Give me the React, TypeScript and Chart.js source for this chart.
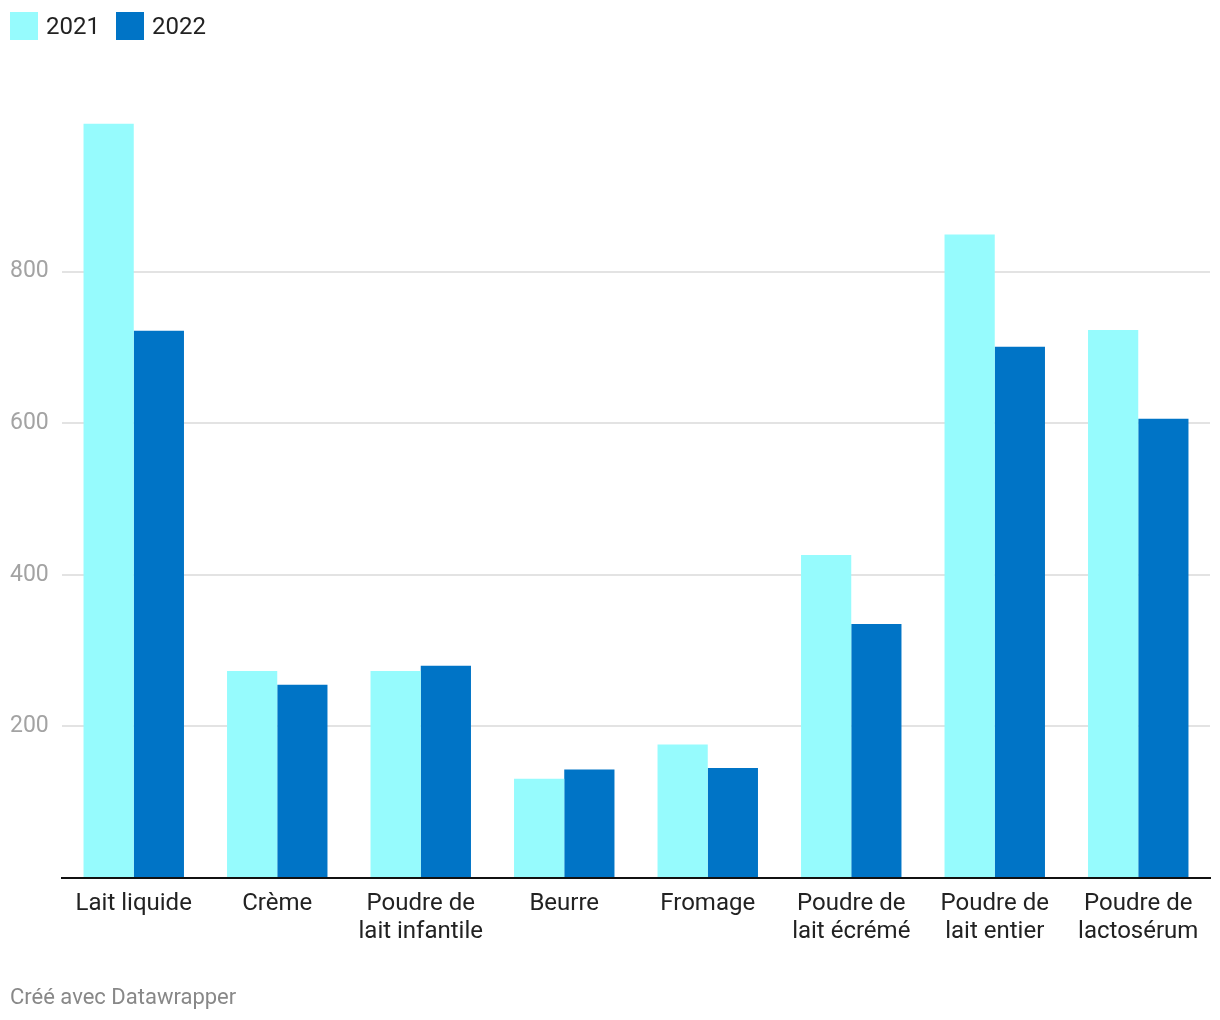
import React, { useEffect, useRef } from "react";
import { Chart, registerables } from "chart.js";

Chart.register(...registerables);

const categories: (string | string[])[] = [
  "Lait liquide",
  "Crème",
  ["Poudre de", "lait infantile"],
  "Beurre",
  "Fromage",
  ["Poudre de", "lait écrémé"],
  ["Poudre de", "lait entier"],
  ["Poudre de", "lactosérum"],
];

const series2021 = [995, 273, 273, 131, 176, 426, 849, 723];
const series2022 = [722, 255, 280, 143, 145, 335, 701, 606];

const seriesLabels = ["2021", "2022"];
const seriesColors = ["#96fbfd", "#0074c6"];

const yMin = 0;
const yMax = 1000;
const yStep = 200;

const FONT = "Roboto, 'Noto Sans', sans-serif";

export default function App() {
  const canvasRef = useRef<HTMLCanvasElement | null>(null);

  useEffect(() => {
    if (!canvasRef.current) return;
    const chart = new Chart(canvasRef.current, {
      type: "bar",
      data: {
        labels: categories,
        datasets: [
          {
            label: seriesLabels[0],
            data: series2021,
            backgroundColor: seriesColors[0],
            borderWidth: 0,
            categoryPercentage: 0.7,
            barPercentage: 1.0,
          },
          {
            label: seriesLabels[1],
            data: series2022,
            backgroundColor: seriesColors[1],
            borderWidth: 0,
            categoryPercentage: 0.7,
            barPercentage: 1.0,
          },
        ],
      },
      options: {
        animation: false,
        responsive: false,
        maintainAspectRatio: false,
        layout: { padding: { left: 10, right: 10, top: 120, bottom: 0 } },
        plugins: {
          legend: { display: false },
          tooltip: { enabled: false },
        },
        scales: {
          x: {
            grid: { display: false, drawTicks: false },
            border: { display: true, color: "#111111", width: 2, z: 1 },
            ticks: {
              color: "#222222",
              padding: 12,
              maxRotation: 0,
              autoSkip: false,
              font: { family: FONT, size: 24, lineHeight: "28px" },
            },
            afterFit: (scale: any) => {
              scale.height = 142;
            },
          },
          y: {
            min: yMin,
            max: yMax,
            grid: {
              drawTicks: false,
              tickLength: 0,
              lineWidth: 2,
              color: (ctx: any) => {
                const v = ctx.tick ? ctx.tick.value : null;
                if (v === yMin || v === yMax) return "rgba(0,0,0,0)";
                return "#e3e3e3";
              },
            },
            border: { display: false },
            ticks: {
              stepSize: yStep,
              crossAlign: "far",
              padding: 0,
              color: "#a3a3a3",
              font: { family: FONT, size: 23, lineHeight: 1.0 },
              callback: (value: any) => {
                const v = Number(value);
                if (v === yMin || v === yMax) return "";
                return String(v);
              },
            },
            afterFit: (scale: any) => {
              scale.width = 52;
            },
          },
        },
      },
    });
    return () => chart.destroy();
  }, []);

  return (
    <div
      style={{
        position: "absolute",
        left: 0,
        top: 0,
        width: 1220,
        height: 1020,
        background: "#ffffff",
        fontFamily: FONT,
        overflow: "hidden",
      }}
    >
      <canvas
        ref={canvasRef}
        width={1220}
        height={1020}
        style={{ position: "absolute", left: 0, top: 0, width: 1220, height: 1020 }}
      />
      <div
        style={{
          position: "absolute",
          left: 10,
          top: 12,
          display: "flex",
          alignItems: "center",
          height: 28,
          fontSize: 24,
          color: "#222222",
        }}
      >
        {seriesLabels.map((lab, i) => (
          <div key={lab} style={{ display: "flex", alignItems: "center", marginRight: 16 }}>
            <span
              style={{
                display: "inline-block",
                width: 28,
                height: 28,
                background: seriesColors[i],
                marginRight: 8,
              }}
            />
            <span style={{ lineHeight: "28px" }}>{lab}</span>
          </div>
        ))}
      </div>
      <div
        style={{
          position: "absolute",
          left: 10,
          top: 984,
          fontSize: 22,
          lineHeight: "26px",
          color: "#888888",
        }}
      >
        Créé avec Datawrapper
      </div>
    </div>
  );
}
